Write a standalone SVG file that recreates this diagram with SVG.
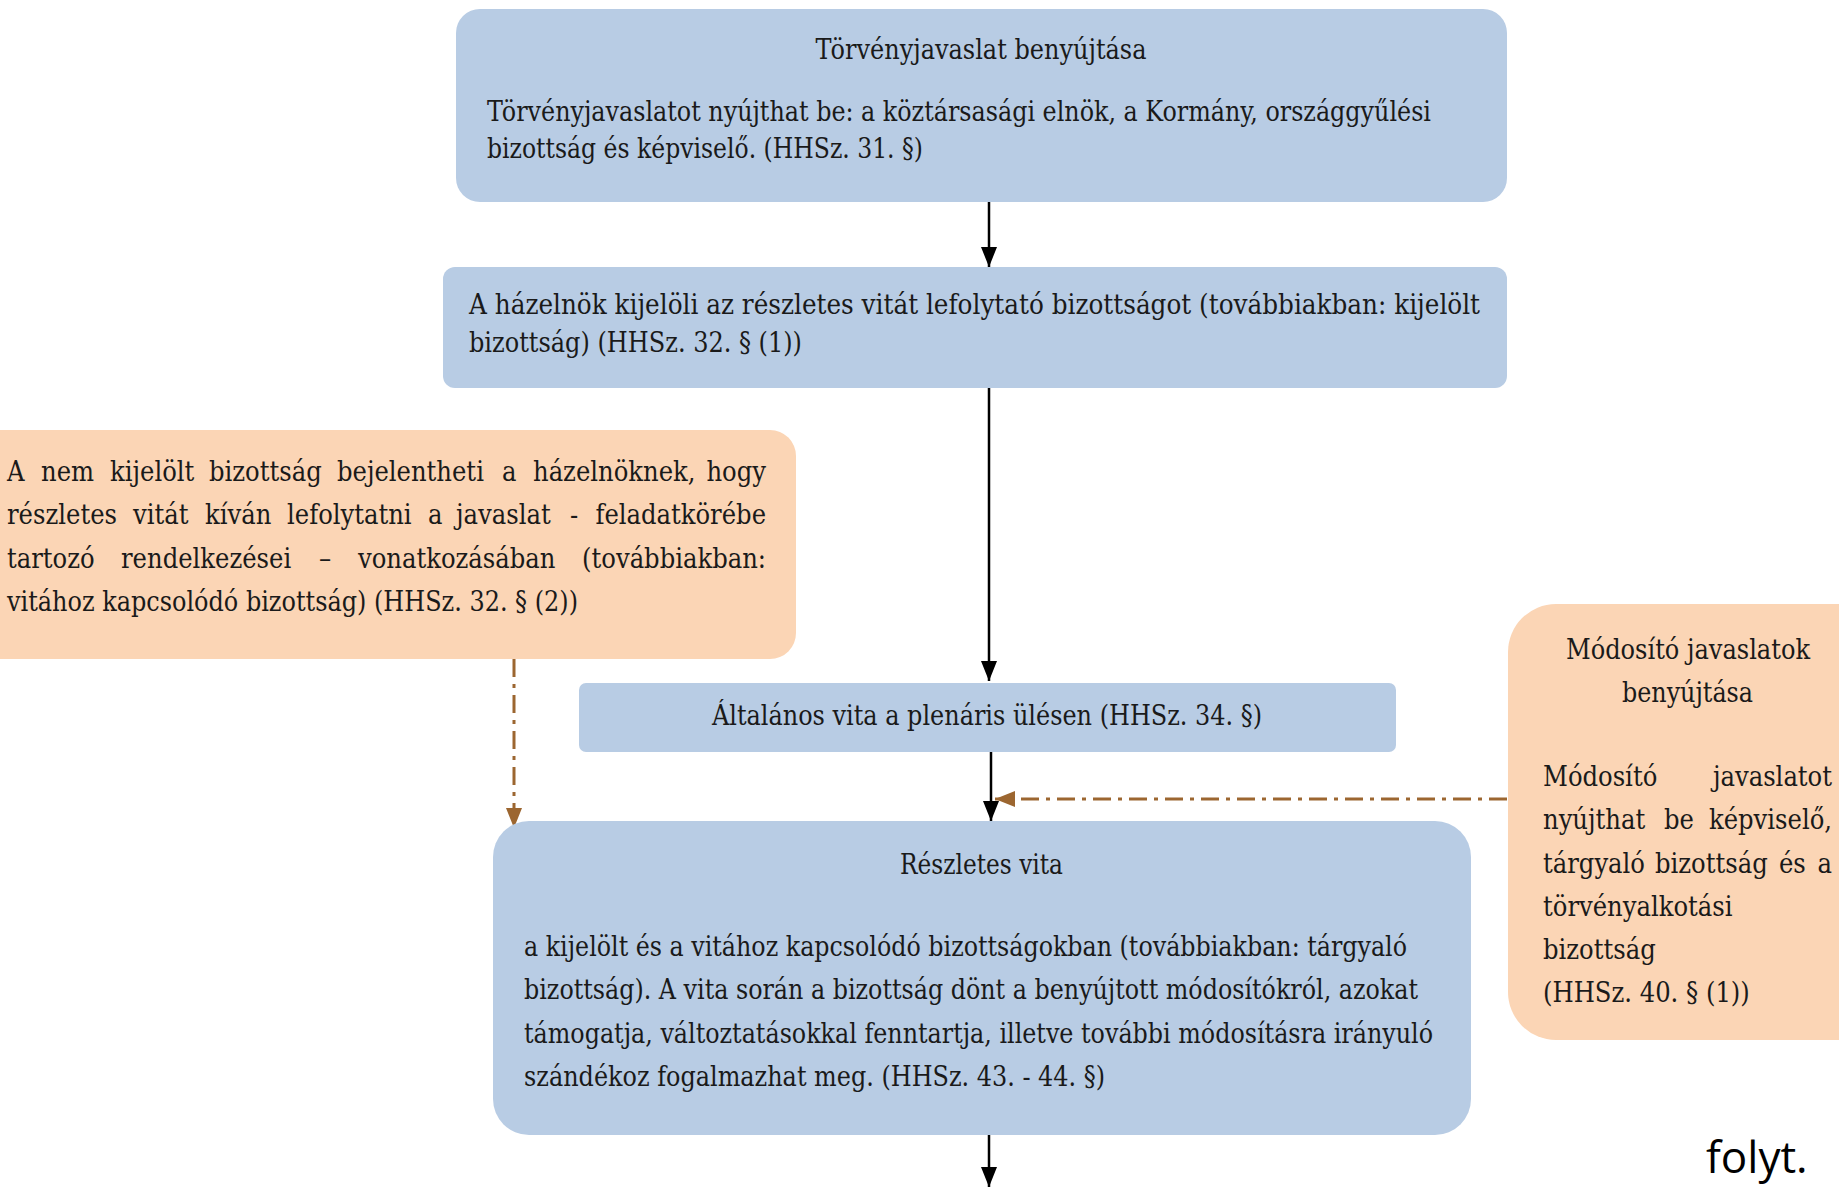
<svg xmlns="http://www.w3.org/2000/svg" width="1839" height="1187" viewBox="0 0 1839 1187">
<style>
.blue{fill:#B8CCE4}
.orange{fill:#FBD5B5}
.t{font-family:"DejaVu Serif Condensed","Liberation Serif",serif;font-size:27px;fill:#1a1a1a}
.c{text-anchor:middle}
.e{text-anchor:end}
.ln{stroke:#000;stroke-width:2.5;fill:none}
.dd{stroke:#9C6630;stroke-width:3;fill:none;stroke-dasharray:18 7 4 7}
</style>
<defs>
<marker id="ab" viewBox="0 0 20 16" refX="20" refY="8" markerWidth="20" markerHeight="16" markerUnits="userSpaceOnUse" orient="auto"><path d="M0,0 L20,8 L0,16 z" fill="#000"/></marker>
<marker id="ao" viewBox="0 0 20 16" refX="20" refY="8" markerWidth="20" markerHeight="16" markerUnits="userSpaceOnUse" orient="auto"><path d="M0,0 L20,8 L0,16 z" fill="#9C6630"/></marker>
</defs>
<rect width="1839" height="1187" fill="#fff"/>

<g id="connectors">
<line class="ln" x1="989" y1="202" x2="989" y2="267" marker-end="url(#ab)"/>
<line class="ln" x1="989" y1="388" x2="989" y2="681" marker-end="url(#ab)"/>
<line class="ln" x1="991" y1="752" x2="991" y2="821" marker-end="url(#ab)"/>
<line class="ln" x1="989" y1="1135" x2="989" y2="1187" marker-end="url(#ab)"/>
<line class="dd" x1="514" y1="659" x2="514" y2="828" marker-end="url(#ao)"/>
<line class="dd" x1="1507" y1="799" x2="995" y2="799" marker-end="url(#ao)"/>
</g>

<g id="n1">
<rect class="blue" x="456" y="9" width="1051" height="193" rx="24"/>
<text class="t c" x="981" y="59" textLength="331" lengthAdjust="spacingAndGlyphs">Törvényjavaslat benyújtása</text>
<text class="t" x="487" y="121" textLength="944" lengthAdjust="spacingAndGlyphs">Törvényjavaslatot nyújthat be: a köztársasági elnök, a Kormány, országgyűlési</text>
<text class="t" x="487" y="158" textLength="436" lengthAdjust="spacingAndGlyphs">bizottság és képviselő. (HHSz. 31. §)</text>
</g>

<g id="n2">
<rect class="blue" x="443" y="267" width="1064" height="121" rx="12"/>
<text class="t" x="469" y="314" textLength="1011" lengthAdjust="spacingAndGlyphs">A házelnök kijelöli az részletes vitát lefolytató bizottságot (továbbiakban: kijelölt</text>
<text class="t" x="469" y="352" textLength="333" lengthAdjust="spacingAndGlyphs">bizottság) (HHSz. 32. § (1))</text>
</g>

<g id="n3">
<rect class="orange" x="-40" y="430" width="836" height="229" rx="26"/>
<text class="t"><tspan x="7" y="481">A</tspan><tspan x="41" y="481">nem</tspan><tspan x="110" y="481">kijelölt</tspan><tspan x="209" y="481">bizottság</tspan><tspan x="337" y="481">bejelentheti</tspan><tspan x="502" y="481">a</tspan><tspan x="533" y="481">házelnöknek,</tspan><tspan class="e" x="766" y="481">hogy</tspan></text>
<text class="t"><tspan x="7" y="524">részletes</tspan><tspan x="133" y="524">vitát</tspan><tspan x="205" y="524">kíván</tspan><tspan x="287" y="524">lefolytatni</tspan><tspan x="428" y="524">a</tspan><tspan x="456" y="524">javaslat</tspan><tspan x="570" y="524">-</tspan><tspan class="e" x="766" y="524">feladatkörébe</tspan></text>
<text class="t"><tspan x="7" y="568">tartozó</tspan><tspan x="121" y="568">rendelkezései</tspan><tspan x="319" y="568">–</tspan><tspan x="358" y="568">vonatkozásában</tspan><tspan class="e" x="766" y="568">(továbbiakban:</tspan></text>
<text class="t" x="7" y="611" textLength="571" lengthAdjust="spacingAndGlyphs">vitához kapcsolódó bizottság) (HHSz. 32. § (2))</text>
</g>

<g id="n4">
<rect class="blue" x="579" y="683" width="817" height="69" rx="7"/>
<text class="t" x="712" y="725" textLength="550" lengthAdjust="spacingAndGlyphs">Általános vita a plenáris ülésen (HHSz. 34. §)</text>
</g>

<g id="n5">
<rect class="blue" x="493" y="821" width="978" height="314" rx="36"/>
<text class="t" x="900" y="874" textLength="163" lengthAdjust="spacingAndGlyphs">Részletes vita</text>
<text class="t" x="524" y="956" textLength="883" lengthAdjust="spacingAndGlyphs">a kijelölt és a vitához kapcsolódó bizottságokban (továbbiakban: tárgyaló</text>
<text class="t" x="524" y="999" textLength="894" lengthAdjust="spacingAndGlyphs">bizottság). A vita során a bizottság dönt a benyújtott módosítókról, azokat</text>
<text class="t" x="524" y="1043" textLength="909" lengthAdjust="spacingAndGlyphs">támogatja, változtatásokkal fenntartja, illetve további módosításra irányuló</text>
<text class="t" x="524" y="1086" textLength="581" lengthAdjust="spacingAndGlyphs">szándékoz fogalmazhat meg. (HHSz. 43. - 44. §)</text>
</g>

<g id="n6">
<rect class="orange" x="1508" y="604" width="380" height="436" rx="48"/>
<text class="t" x="1566" y="659" textLength="244" lengthAdjust="spacingAndGlyphs">Módosító javaslatok</text>
<text class="t" x="1622" y="702" textLength="131" lengthAdjust="spacingAndGlyphs">benyújtása</text>
<text class="t"><tspan x="1543" y="786">Módosító</tspan><tspan class="e" x="1832" y="786">javaslatot</tspan></text>
<text class="t"><tspan x="1543" y="829">nyújthat</tspan><tspan x="1664" y="829">be</tspan><tspan class="e" x="1832" y="829">képviselő,</tspan></text>
<text class="t"><tspan x="1543" y="873">tárgyaló</tspan><tspan x="1655" y="873">bizottság</tspan><tspan x="1779" y="873">és</tspan><tspan class="e" x="1832" y="873">a</tspan></text>
<text class="t" x="1543" y="916">törvényalkotási</text>
<text class="t" x="1543" y="959">bizottság</text>
<text class="t" x="1543" y="1002">(HHSz. 40. § (1))</text>
</g>

<text x="1706" y="1173" style="font-family:'Open Sans','Liberation Sans',sans-serif;font-size:44px;fill:#000">folyt.</text>
</svg>
